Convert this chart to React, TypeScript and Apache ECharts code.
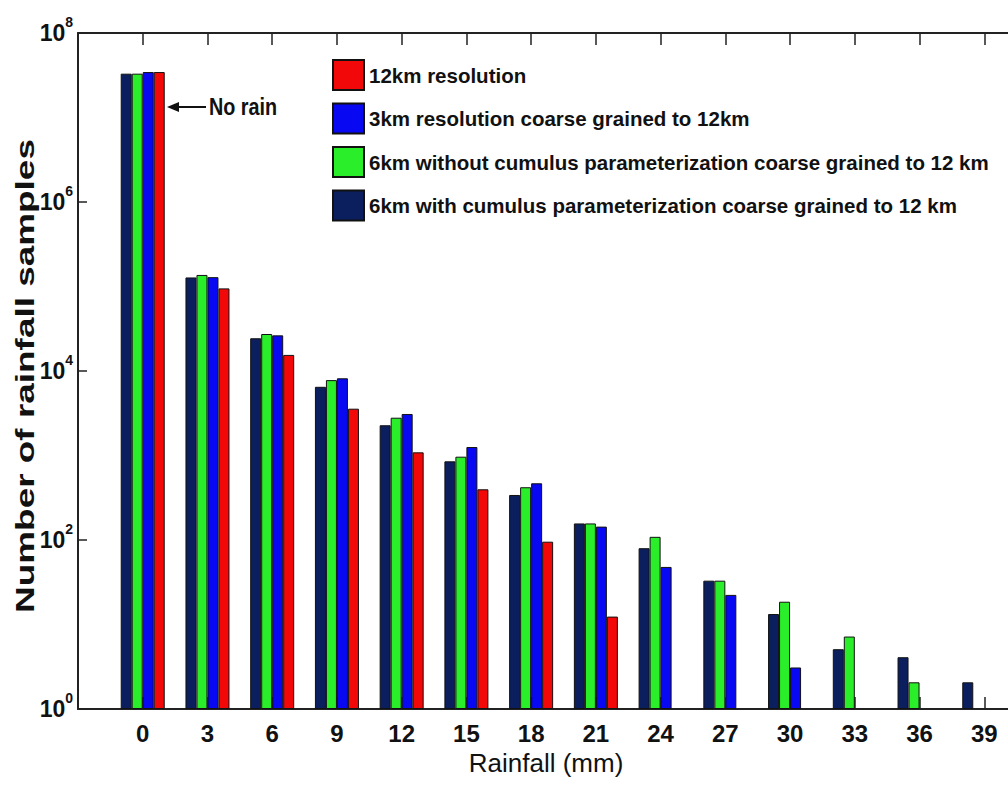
import React, { useEffect, useRef } from "react";
import * as echarts from "echarts";

const rainfall = [0, 3, 6, 9, 12, 15, 18, 21, 24, 27, 30, 33, 36, 39];
const seriesNames = [
  "6km with cumulus parameterization coarse grained to 12 km",
  "6km without cumulus parameterization coarse grained to 12 km",
  "3km resolution coarse grained to 12km",
  "12km resolution",
];
const legendOrder = [
  "12km resolution",
  "3km resolution coarse grained to 12km",
  "6km without cumulus parameterization coarse grained to 12 km",
  "6km with cumulus parameterization coarse grained to 12 km",
];
const with6km = [3.3e7, 1.28e5, 2.44e4, 6.5e3, 2280, 853, 341, 157, 80, 33, 13.3, 5.1, 4.1, 2.07];
const without6km = [3.3e7, 1.37e5, 2.74e4, 7.8e3, 2800, 968, 421, 157, 109, 33, 18.6, 7.2, 2.07, null];
const res3km = [3.45e7, 1.29e5, 2.64e4, 8.2e3, 3100, 1260, 469, 144, 48, 22.4, 3.1, null, null, null];
const res12km = [3.45e7, 9.5e4, 1.55e4, 3.58e3, 1090, 398, 95.5, 12.4, null, null, null, null, null, null];
const seriesValues = [with6km, without6km, res3km, res12km];
const seriesColors = ["#0b1f5e", "#2bee2b", "#0808f2", "#f20808"];

const SANS = "'Liberation Sans', Arial, sans-serif";

export default function App() {
  const ref = useRef<HTMLDivElement>(null);
  useEffect(() => {
    if (!ref.current) return;
    const chart = echarts.init(ref.current, undefined, { renderer: "svg" });
    const axisLine = { show: true, onZero: false, lineStyle: { color: "#222", width: 2 } };
    const option: any = {
      animation: false,
      backgroundColor: "#fff",
      grid: { left: 78, right: 11, top: 33, bottom: 80 },
      legend: {
        data: legendOrder,
        orient: "vertical",
        left: 332,
        top: 59,
        padding: 0,
        itemWidth: 31,
        itemHeight: 30,
        itemGap: 11.5,
        icon: "rect",
        textStyle: { fontFamily: SANS, fontWeight: "bold", fontSize: 20.5, color: "#111" },
      },
      xAxis: [
        {
          type: "value",
          min: -3,
          max: 42,
          interval: 3,
          position: "bottom",
          axisLine,
          axisTick: { show: true, inside: true, length: 12, lineStyle: { color: "#222", width: 1.5 } },
          splitLine: { show: false },
          axisLabel: {
            margin: 12,
            fontFamily: SANS,
            fontWeight: "bold",
            fontSize: 24,
            color: "#111",
            formatter: (v: number) => (v >= 0 && v <= 39 ? String(v) : ""),
          },
          name: "Rainfall (mm)",
          nameLocation: "middle",
          nameGap: 28,
          nameTextStyle: { fontFamily: SANS, fontSize: 26, color: "#111", padding: [0, 35, 0, 0] },
        },
        {
          type: "value",
          min: -3,
          max: 42,
          interval: 3,
          position: "top",
          axisLine,
          axisTick: { show: true, inside: true, length: 12, lineStyle: { color: "#222", width: 1.5 } },
          axisLabel: { show: false },
          splitLine: { show: false },
        },
      ],
      yAxis: {
        type: "log",
        logBase: 100,
        min: 1,
        max: 1e8,
        axisLine,
        axisTick: { show: true, inside: true, length: 9, lineStyle: { color: "#222", width: 1.5 } },
        minorTick: { show: false },
        splitLine: { show: false },
        axisLabel: {
          margin: 5,
          fontFamily: SANS,
          fontWeight: "bold",
          fontSize: 23,
          color: "#111",
          formatter: (v: number) => `{b|10}{s|${Math.round(Math.log10(v))}}`,
          rich: {
            b: { fontFamily: SANS, fontWeight: "bold", fontSize: 23, color: "#111", lineHeight: 36, verticalAlign: "middle" },
            s: { fontFamily: SANS, fontWeight: "bold", fontSize: 14, color: "#111", lineHeight: 14, verticalAlign: "top" },
          },
        },
      },
      series: seriesNames.map((name, si) => ({
        name,
        type: "bar",
        xAxisIndex: 0,
        barWidth: 11,
        barGap: "0%",
        itemStyle: { color: seriesColors[si], borderColor: "#111", borderWidth: 1 },
        data: rainfall.map((x, i) => [x, seriesValues[si][i]]),
      })),
      graphic: [
        {
          type: "text",
          x: 25,
          y: 376,
          rotation: Math.PI / 2,
          scaleX: 1.42,
          style: {
            text: "Number of rainfall samples",
            fontFamily: SANS,
            fontWeight: "bold",
            fontSize: 26,
            fill: "#111",
            align: "center",
            verticalAlign: "middle",
          },
        },
        {
          type: "line",
          shape: { x1: 176, y1: 107, x2: 206, y2: 107 },
          style: { stroke: "#111", lineWidth: 2 },
        },
        {
          type: "polygon",
          shape: { points: [[167, 107], [179, 102], [179, 112]] },
          style: { fill: "#111" },
        },
        {
          type: "text",
          x: 209,
          y: 107,
          scaleX: 0.86,
          style: {
            text: "No rain",
            fontFamily: SANS,
            fontWeight: "bold",
            fontSize: 23,
            fill: "#111",
            align: "left",
            verticalAlign: "middle",
          },
        },
      ],
    };
    chart.setOption(option);
    return () => chart.dispose();
  }, []);
  return (
    <div style={{ position: "fixed", left: 0, top: 0, width: 1008, height: 789, overflow: "hidden", background: "#fff" }}>
      <div ref={ref} style={{ width: 1060, height: 789 }} />
    </div>
  );
}
